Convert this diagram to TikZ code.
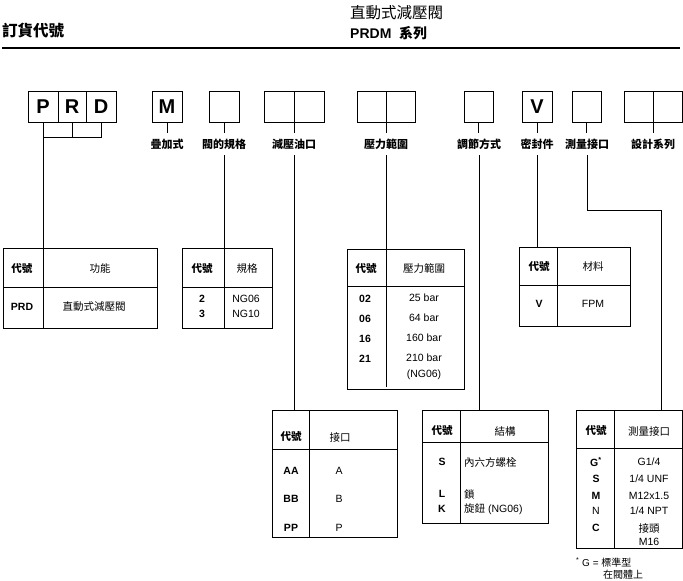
\documentclass[tikz,border=0pt]{standalone}
\usepackage{fontspec}
\setmainfont{Liberation Sans}
\newfontfamily\cjk{Noto Sans CJK TC}
\newcommand\zh[1]{{\cjk #1}}
\begin{document}
\begin{tikzpicture}[x=1pt,y=-1pt,
  cell/.style={draw, line width=0.9pt, minimum height=31pt, inner sep=0pt, font=\fontsize{20}{20}\selectfont\bfseries},
  lab/.style={font=\fontsize{11}{12}\selectfont\cjk\bfseries, inner sep=0pt, minimum height=22pt},
  tbl/.style={draw, line width=0.9pt, inner sep=0pt, anchor=north west},
  tx/.style={font=\fontsize{10.5}{12}\selectfont, inner sep=0pt},
  tb/.style={font=\fontsize{10.5}{12}\selectfont\bfseries, inner sep=0pt},
  fn/.style={font=\fontsize{10}{11}\selectfont, inner sep=0pt, anchor=west},
  ln/.style={line width=0.9pt},
]
\useasboundingbox (0,0) rectangle (683,581);
% header
\node[anchor=west, inner sep=0pt, font=\fontsize{15.5}{16}\selectfont\cjk\bfseries] (hA) at (2,31) {訂貨代號};
\node[anchor=west, inner sep=0pt, font=\fontsize{15.5}{16}\selectfont\cjk] (hB) at (350,13) {直動式減壓閥};
\node[anchor=west, inner sep=0pt, font=\fontsize{14}{16}\selectfont\bfseries] (hC) at (350,33) {PRDM\ \ \zh{系列}};
\coordinate (hl1) at (2,48);
\coordinate (hl2) at (680,48);
\draw[line width=2.4pt] (hl1) -- (hl2);
% code boxes
\node[cell, minimum width=30pt] (cP) at (43,106.5) {P};
\node[cell, minimum width=28pt] (cR) at (72,106.5) {R};
\node[cell, minimum width=30pt] (cD) at (101,106.5) {D};
\node[cell, minimum width=30pt] (cM) at (167,106.5) {M};
\node[cell, minimum width=30pt] (c2) at (224,106.5) {};
\node[cell, minimum width=30pt] (c3a) at (279,106.5) {};
\node[cell, minimum width=30pt] (c3b) at (309,106.5) {};
\node[cell, minimum width=29pt] (c4a) at (371.5,106.5) {};
\node[cell, minimum width=29pt] (c4b) at (400.5,106.5) {};
\node[cell, minimum width=29pt] (c5) at (478.5,106.5) {};
\node[cell, minimum width=30pt] (cV) at (537,106.5) {V};
\node[cell, minimum width=29pt] (c7) at (586.5,106.5) {};
\node[cell, minimum width=29pt] (c8a) at (638.5,106.5) {};
\node[cell, minimum width=29pt] (c8b) at (667.5,106.5) {};
% labels
\node[lab] (l1) at (167,144) {疊加式};
\node[lab] (l2) at (224,144) {閥的規格};
\node[lab] (l3) at (294,144) {減壓油口};
\node[lab] (l4) at (386,144) {壓力範圍};
\node[lab] (l5) at (479,144) {調節方式};
\node[lab] (l6) at (537,144) {密封件};
\node[lab] (l7) at (587,144) {測量接口};
\node[lab] (l8) at (653,144) {設計系列};
% tables
\node[tbl, minimum width=154pt, minimum height=80pt] (tF) at (3,248) {};
\draw[ln] (43,248) -- (43,328); \draw[ln] (3,287) -- (157,287);
\node[tbl, minimum width=90pt, minimum height=80pt] (tS) at (182,248) {};
\draw[ln] (224,248) -- (224,328); \draw[ln] (182,287) -- (272,287);
\node[tbl, minimum width=117pt, minimum height=140pt] (tP) at (347,249) {};
\draw[ln] (386,249) -- (386,387); \draw[ln] (347,286) -- (464,286);
\node[tbl, minimum width=111pt, minimum height=79pt] (tMat) at (519,247) {};
\draw[ln] (557,247) -- (557,326); \draw[ln] (519,285) -- (630,285);
\node[tbl, minimum width=125pt, minimum height=127pt] (tA) at (272,410) {};
\draw[ln] (309,410) -- (309,537); \draw[ln] (272,449) -- (397,449);
\node[tbl, minimum width=126pt, minimum height=113pt] (tK) at (422,410) {};
\draw[ln] (460,410) -- (460,523); \draw[ln] (422,442) -- (548,442);
\node[tbl, minimum width=106pt, minimum height=138pt] (tG) at (576,410) {};
\draw[ln] (614,410) -- (614,548); \draw[ln] (576,448) -- (682,448);
% connectors top
\coordinate (jn) at (0,137);
\draw[ln] (cP.south) -- (cP.south |- tF.north);
\draw[ln] (cR.south) -- (cR.south |- jn);
\draw[ln] (cD.south) -- (cD.south |- jn) -- (cP.south |- jn);
\draw[ln] (cM.south) -- (cM.south |- l1.north);
\draw[ln] (c2.south) -- (c2.south |- l2.north);
\draw[ln] (c3a.south east) -- (c3a.south east |- l3.north);
\draw[ln] (c4a.south east) -- (c4a.south east |- l4.north);
\draw[ln] (c5.south) -- (c5.south |- l5.north);
\draw[ln] (cV.south) -- (cV.south |- l6.north);
\draw[ln] (c7.south) -- (c7.south |- l7.north);
\draw[ln] (c8a.south east) -- (c8a.south east |- l8.north);
% connectors to tables
\draw[ln] (l2.south) -- (l2.south |- tS.north);
\draw[ln] (l3.south) -- (l3.south |- tA.north);
\draw[ln] (l4.south) -- (l4.south |- tP.north);
\draw[ln] (l5.south) -- (l5.south |- tK.north);
\draw[ln] (l6.south) -- (l6.south |- tMat.north);
\coordinate (bend) at (661,210);
\draw[ln] (l7.south) |- (bend) -- (bend |- tG.north);
% table 1
\node[tb] (a1) at (22,269) {\zh{代號}};
\node[tx] (a2) at (100,269) {\zh{功能}};
\node[tb] (a3) at (22,307) {PRD};
\node[tx] (a4) at (94,307) {\zh{直動式減壓閥}};
% table 2
\node[tb] (b1) at (202,269) {\zh{代號}};
\node[tx] (b2) at (247,269) {\zh{規格}};
\node[tb] (b3) at (202,299) {2};
\node[tb] (b4) at (202,314) {3};
\node[tx] (b5) at (246,299) {NG06};
\node[tx] (b6) at (246,314) {NG10};
% table 3
\node[tb] (p1) at (366,269) {\zh{代號}};
\node[tx] (p2) at (424,268) {\zh{壓力範圍}};
\node[tb] (p3) at (365,299) {02};
\node[tb] (p4) at (365,319) {06};
\node[tb] (p5) at (365,339) {16};
\node[tb] (p6) at (365,359) {21};
\node[tx] (p7) at (424,298) {25 bar};
\node[tx] (p8) at (424,318) {64 bar};
\node[tx] (p9) at (424,338) {160 bar};
\node[tx] (p10) at (424,358) {210 bar};
\node[tx] (p11) at (424,375) {(NG06)};
% table material
\node[tb] (m1) at (539,267) {\zh{代號}};
\node[tx] (m2) at (593,267) {\zh{材料}};
\node[tb] (m3) at (539,304) {V};
\node[tx] (m4) at (593,304) {FPM};
% table ports
\node[tb] (q1) at (291,437) {\zh{代號}};
\node[tx] (q2) at (340,437) {\zh{接口}};
\node[tb] (q3) at (291,471) {AA};
\node[tb] (q4) at (291,499) {BB};
\node[tb] (q5) at (291,528) {PP};
\node[tx] (q6) at (339,471) {A};
\node[tx] (q7) at (339,499) {B};
\node[tx] (q8) at (339,528) {P};
% table structure
\node[tb] (k1) at (442,431) {\zh{代號}};
\node[tx] (k2) at (505,431) {\zh{結構}};
\node[tb] (k3) at (442,462) {S};
\node[tx, anchor=west] (k4) at (464,462) {\zh{內六方螺栓}};
\node[tb] (k5) at (442,494) {L};
\node[tx, anchor=west] (k6) at (464,494) {\zh{鎖}};
\node[tb] (k7) at (442,509) {K};
\node[tx, anchor=west] (k8) at (464,509) {\zh{旋鈕} (NG06)};
% table gauge
\node[tb] (g1) at (596,431) {\zh{代號}};
\node[tx] (g2) at (649,431) {\zh{測量接口}};
\node[tb] (g3) at (596,462) {G\textsuperscript{*}};
\node[tb] (g4) at (596,479) {S};
\node[tb] (g5) at (596,496) {M};
\node[tx] (g6) at (596,511) {N};
\node[tb] (g7) at (596,528) {C};
\node[tx] (g8) at (649,462) {G1/4};
\node[tx] (g9) at (649,479) {1/4 UNF};
\node[tx] (g10) at (649,496) {M12x1.5};
\node[tx] (g11) at (649,511) {1/4 NPT};
\node[tx] (g12) at (649,528) {\zh{接頭}};
\node[tx] (g13) at (649,542) {M16};
% footnote
\node[fn] (f1) at (576,562.5) {\textsuperscript{*} G = \zh{標準型}};
\node[fn] (f2) at (603,575) {\zh{在閥體上}};
\end{tikzpicture}
\end{document}
